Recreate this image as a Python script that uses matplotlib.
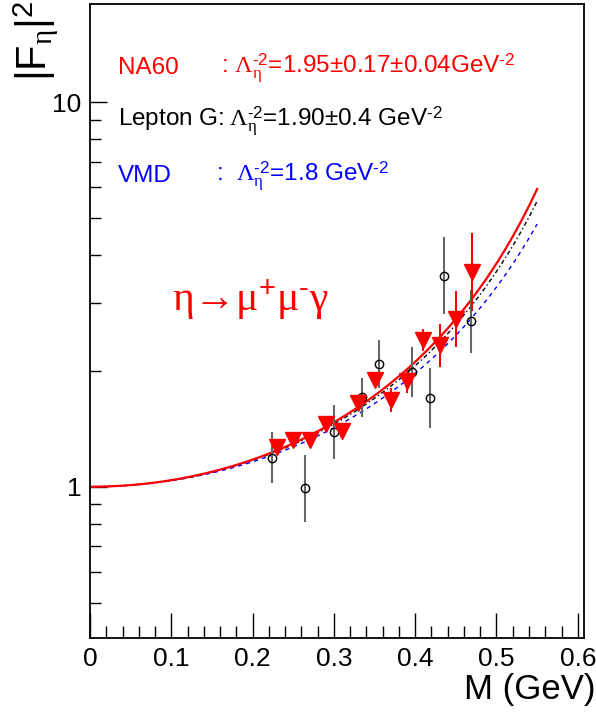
import numpy as np
import matplotlib
matplotlib.use("Agg")
import matplotlib.pyplot as plt
from matplotlib.ticker import FixedLocator, FuncFormatter, NullFormatter

plt.rcParams['font.family'] = ['Liberation Sans', 'DejaVu Sans']
plt.rcParams['mathtext.fontset'] = 'custom'
plt.rcParams['mathtext.rm'] = 'Liberation Sans'
plt.rcParams['mathtext.it'] = 'Liberation Serif'
plt.rcParams['mathtext.bf'] = 'Liberation Serif'
plt.rcParams['mathtext.sf'] = 'Liberation Sans'

# NA60 points (red triangles)
na60_m = [0.23, 0.25, 0.27, 0.29, 0.31, 0.33, 0.35, 0.37, 0.39, 0.41, 0.43, 0.45, 0.47]
na60_f = [1.27, 1.32, 1.32, 1.46, 1.40, 1.65, 1.89, 1.68, 1.88, 2.41, 2.33, 2.73, 3.61]
na60_lo = [0.03, 0.03, 0.03, 0.04, 0.04, 0.05, 0.06, 0.12, 0.13, 0.15, 0.28, 0.42, 0.75]
na60_hi = [0.03, 0.03, 0.03, 0.04, 0.04, 0.05, 0.06, 0.13, 0.14, 0.16, 0.32, 0.49, 0.95]

# Lepton G points (open circles)
lg_m = [0.224, 0.265, 0.300, 0.335, 0.355, 0.396, 0.418, 0.436, 0.469]
lg_f = [1.19, 0.99, 1.39, 1.71, 2.09, 1.99, 1.70, 3.54, 2.69]
lg_lo = [0.17, 0.18, 0.21, 0.19, 0.28, 0.28, 0.28, 0.73, 0.46]
lg_hi = [0.20, 0.22, 0.24, 0.21, 0.32, 0.32, 0.33, 0.91, 0.55]

# pole fit parameters Lambda^-2 (GeV^-2)
lam_na60 = 1.95
lam_lg = 1.90
lam_vmd = 1.8

m = np.linspace(0, 0.55, 300)
def ff2(lam):
    return (1.0 / (1.0 - lam * m**2))**2

fig = plt.figure(figsize=(5.96, 7.13), dpi=100)
ax = fig.add_axes([90/596, 1-637.7/713, (584.3-90)/596, (637.7-4)/713])

ax.plot(m, ff2(lam_vmd), color='blue', lw=1.0, ls=(0, (3, 3)))
ax.plot(m, ff2(lam_lg), color='black', lw=1.0, ls=(0, (3, 2, 1, 2)))
ax.plot(m, ff2(lam_na60), color='red', lw=1.6)

ax.errorbar(lg_m, lg_f, yerr=[lg_lo, lg_hi], fmt='o', mfc='none', mec='black',
            ms=6, mew=1.0, ecolor='0.4', elinewidth=1.5, capsize=0, zorder=3)
ax.errorbar(na60_m, na60_f, yerr=[na60_lo, na60_hi], fmt='v', color='red',
            ms=11, ecolor='red', elinewidth=1.5, capsize=0, zorder=4)

ax.set_yscale('log')
ax.set_xlim(0, 0.608)
ax.set_ylim(0.405, 18.0)

ax.xaxis.set_major_locator(FixedLocator([0, 0.1, 0.2, 0.3, 0.4, 0.5, 0.6]))
ax.xaxis.set_minor_locator(FixedLocator(np.arange(0, 0.61, 0.02)))
ax.xaxis.set_major_formatter(FuncFormatter(lambda v, p: '0' if v == 0 else '%.1f' % v))
ax.yaxis.set_major_locator(FixedLocator([1, 10]))
ax.yaxis.set_minor_locator(FixedLocator([0.5, 0.6, 0.7, 0.8, 0.9, 2, 3, 4, 5, 6, 7, 8, 9]))
ax.yaxis.set_major_formatter(FuncFormatter(lambda v, p: '%d' % v))
ax.yaxis.set_minor_formatter(NullFormatter())

ax.tick_params(which='both', direction='in', top=False, right=False, labelsize=19, width=1.0)
ax.tick_params(axis='x', which='major', length=18, pad=7)
ax.tick_params(axis='x', which='minor', length=9)
ax.tick_params(axis='y', which='major', length=12, pad=6)
ax.tick_params(axis='y', which='minor', length=8)
for s in ax.spines.values():
    s.set_linewidth(1.3)

def px(x, y):
    return (x/596, 1-y/713)

fig.text(*px(595, 690), 'M (GeV)', ha='right', va='center', fontsize=25)
fig.text(*px(36, 0), r'$|\mathrm{F}_{\eta}|^{2}$', rotation=90, ha='center', va='top', fontsize=30)

fs = 17.5
lam = r'$\mathbf{\Lambda}_{\eta}^{\text{-2}}$'
gev = r'GeV$^{\text{-2}}$'
fig.text(*px(118, 68), 'NA60', color='red', fontsize=fs, va='center')
fig.text(*px(221, 68), ': ' + lam + '=1.95\u00b10.17\u00b10.04' + gev, color='red', fontsize=fs, va='center')
fig.text(*px(118, 121), 'Lepton G:\u2009' + lam + '=1.90\u00b10.4 ' + gev, color='black', fontsize=fs, va='center')
fig.text(*px(118, 176), 'VMD', color='blue', fontsize=fs, va='center')
fig.text(*px(216, 176), ':  ' + lam + '=1.8 ' + gev, color='blue', fontsize=fs, va='center')

fig.text(*px(172, 300), 'η→μ' + r'$^{+}$' + 'μ' + r'$^{\text{-}}$' + 'γ', color='red', fontsize=30,
         va='center', family=['Liberation Serif', 'DejaVu Serif'])

fig.savefig('out.png', dpi=100)
